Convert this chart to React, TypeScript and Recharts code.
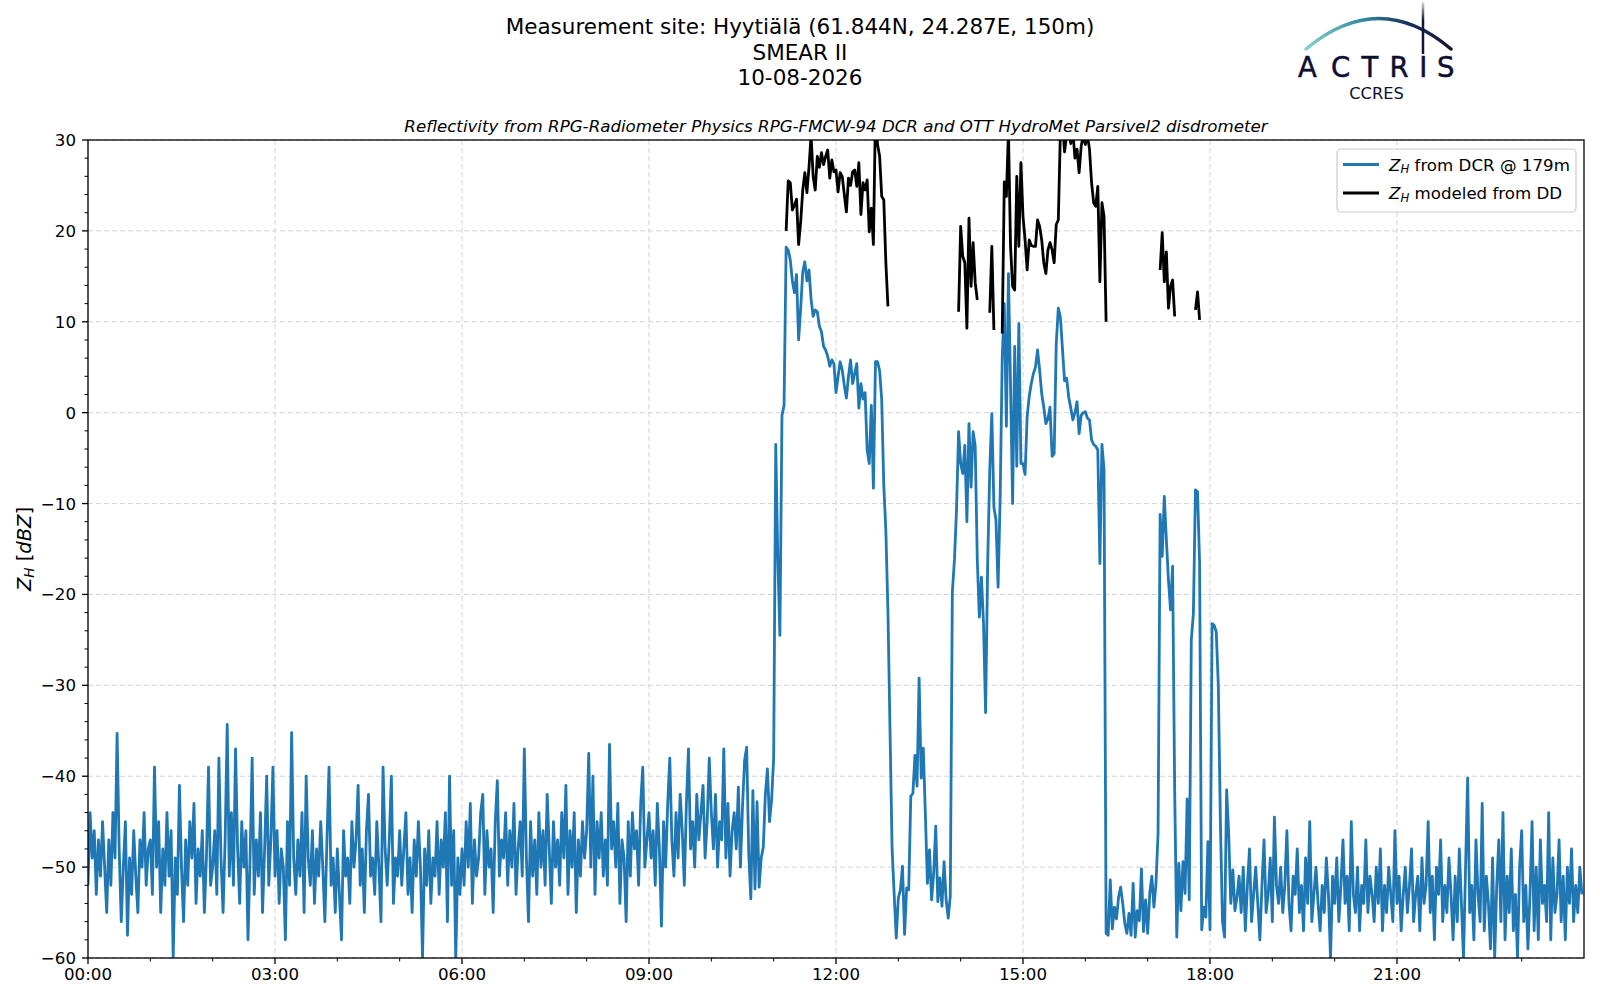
import React from 'react';
import { LineChart, Line, XAxis, YAxis, CartesianGrid } from 'recharts';

// ---------- data ----------
const STEP_MIN = 2; // minutes between DCR samples

// 00:00 - 10:58, one row per hour
const dcrNight: number[] = [
  -52, -44, -49, -46, -53, -47, -51, -45, -50, -55, -47, -52, -44, -49, -35.3, -48, -56, -50, -45, -57.5, -49, -53, -46, -51, -55, -47, -50, -44, -52, -48,
  -47, -53, -39, -50, -45, -55, -48, -52, -44, -51, -46, -60, -49, -53, -41, -50, -56, -47, -52, -45, -49, -43, -54, -48, -51, -46, -55, -49, -39, -52,
  -50, -46, -53, -38, -49, -55, -47, -34.3, -51, -44, -52, -37, -48, -54, -45, -50, -46, -58, -49, -38, -53, -47, -51, -44, -55, -48, -40, -52, -47, -39,
  -51, -46, -54, -48, -50, -58, -45, -52, -35.2, -49, -53, -47, -51, -44, -55, -40, -49, -52, -46, -54, -48, -51, -45, -50, -56, -47, -39, -52, -49, -55,
  -48, -53, -58, -46, -51, -49, -54, -45, -50, -47, -41, -52, -48, -55, -46, -42, -51, -49, -53, -45, -50, -56, -39, -48, -52, -47, -40, -54, -49, -51,
  -46, -52, -48, -44, -53, -49, -55, -47, -51, -45, -50, -60, -48, -52, -46, -54, -49, -51, -45, -53, -47, -50, -44, -56, -40, -52, -46, -60, -49, -53,
  -48, -52, -45, -50, -43, -54, -47, -51, -49, -44, -42, -53, -46, -50, -48, -55, -45, -40.5, -51, -47, -49, -44, -52, -46, -50, -43, -53, -48, -45, -51,
  -37, -49, -56, -45, -51, -47, -53, -44, -50, -46, -52, -42, -48, -54, -45, -50, -47, -52, -44, -49, -41, -53, -46, -50, -44, -55, -47, -51, -45, -49,
  -46, -37.5, -50, -40, -53, -45, -49, -44, -51, -47, -52, -36.5, -48, -45, -50, -43, -54, -47, -49, -56, -45, -51, -44, -48, -46, -52, -43, -39, -50, -47,
  -44, -49, -46, -52, -43, -48, -56.5, -45, -50, -43, -38, -47, -51, -44, -49, -42, -46, -52, -43, -37, -48, -45, -50, -42, -47, -44, -41, -49, -45, -38,
  -44, -48, -42, -50, -45, -47, -37, -49, -43, -51, -46, -44, -48, -41.2, -50, -43.4, -38.3, -36.8, -48.5, -53.5, -41.6, -52.4, -42.8, -52.2, -49, -47.8, -42, -39.2, -45, -42.6,
];

// 11:00 - 18:26
const dcrEvent: number[] = [
  -38, -3.5, -16, -24.5, -0.3, 0.8, 18.2, 17.9, 16.8, 14.5,
  13.2, 15.2, 8, 11.5, 15.5, 16.6, 14.5, 15.7, 12.5, 10.6,
  11.3, 11.1, 9.5, 8.9, 7.3, 6.9, 6.2, 5.1, 5.8, 5.4,
  2.2, 4, 5.6, 4.7, 3, 1.6, 4, 5.8, 3.2, 4.3,
  5.4, 0.5, 3.2, 1.5, 2.2, -4.1, -5.6, 0.8, -8.3, 5.6,
  5.6, 4.6, 1.4, -8, -13, -21.9, -35, -48, -53, -57.8,
  -53.4, -52.5, -49.9, -57.4, -52.3, -52.5, -42.2, -41.9, -37.7, -41.1,
  -29.2, -40.2, -36.9, -44.1, -51.8, -48.1, -53.6, -50.7, -45.5, -53.8,
  -51.2, -54.3, -49.4, -53.6, -55.6, -53.2, -19.7, -16.2, -10.7, -2.1,
  -5.6, -6.7, -3.6, -12, -1.2, -8.2, -2.1, -3.7, -16.2, -22.5,
  -18.1, -23.2, -33, -16.6, -6.3, -0.1, -10.4, -11.8, -19.2, -9.5,
  6, 12, -1.5, 15.3, 3, -10, 7.3, -5.9, 9.8, -5.6,
  -5.6, -6.8, -0.4, 1.8, 3.2, 4.3, 5, 6.9, 4.7, 2.1,
  0.6, -1.2, -0.7, 0.6, -4.8, -4.5, 7.6, 11.5, 10.5, 7,
  3.5, 3.8, 1.7, 0.5, -0.8, 0, 1.2, -2.3, -0.3, 0,
  0.1, -0.6, -0.8, -3, -3.5, -3.7, -4.1, -16.6, -3.5, -6.3,
  -57.3, -57.5, -51.4, -56.8, -54.4, -55.7, -53.3, -52.2, -54, -56.2,
  -57.3, -55.1, -57.5, -51.8, -57.7, -54.8, -55.9, -50.2, -57.1, -53.6,
  -57.3, -52.9, -51, -54.4, -51.8, -46.3, -11.2, -15.8, -9.2, -14,
  -18.4, -21.7, -16.9, -41.5, -57.7, -49.6, -54.8, -49.4, -52.9, -42.5,
  -53.6, -25, -22.1, -8.5, -8.7, -16.6, -56.9, -54.4, -55.5, -47.2,
  -56.9, -23.2, -23.4, -24.1, -30, -45, -55.9, -57.7, -41.5, -46.3,
  -54, -50.3, -54.8, -53.3,
];

// 18:28 - 23:58
const dcrEvening: number[] = [
  -51, -55, -50, -57, -52, -48, -56, -53, -50, -54, -58, -52, -47, -55, -53, -49, -56, -44.5, -52, -54,
  -50, -55, -52, -46, -54, -57, -51, -53, -48, -55, -52, -57, -49, -54, -45, -56, -53, -50, -54, -57,
  -52, -55, -49, -53, -60, -51, -54, -49, -56, -52, -47, -54, -51, -57, -45, -53, -55, -50, -57, -52,
  -54, -47, -55, -51, -53, -56, -50, -54, -48, -57, -52, -55, -50, -53, -56, -46, -54, -51, -57, -53,
  -50, -55, -52, -48, -56, -53, -51, -57, -49, -54, -52, -45, -55, -51, -58, -50, -53, -47, -56, -52,
  -55, -49, -53, -58, -51, -56, -48, -54, -60, -50, -40.2, -55, -52, -58, -47, -53, -56, -43, -57, -51,
  -54, -59, -49, -60, -52, -47, -56, -44, -58, -51, -55, -48, -57, -53, -60, -50, -46, -56, -52, -59,
  -53, -45, -57, -50, -58, -47, -54, -52, -56, -44, -58, -49, -55, -53, -47, -56, -51, -58, -50, -54,
  -48, -56, -52, -55, -50, -53,
];

// disdrometer-modelled reflectivity, contiguous pieces (start minute + values every STEP_MIN)
const ddSeg1Start = 672;
const ddSeg1: number[] = [
  20, 25.5, 25.3, 22.3, 22.8, 23.5, 18.5, 21, 24.5, 26.4,
  24.2, 27, 30.5, 26, 24.5, 28.2, 27, 28.6, 27.3, 28.2,
  28.9, 25.8, 27.8, 26.5, 26.7, 24.3, 26.4, 26, 24, 22.1,
  25.8, 25, 26.5, 26.7, 24.9, 27.5, 21.8, 25.3, 24.5, 25.6,
  19.9, 22.5, 18.5, 33, 29.5, 28.2, 23.8, 23.4, 16.5, 11.7,
];
const ddSeg2Start = 838;
const ddSeg2: number[] = [11.1, 20.5, 17.2, 16.5, 9.3, 21.4, 13.9, 18.7, 14.3, 12.4];
const ddSeg3Start = 868;
const ddSeg3: number[] = [11, 18.3, 9.1];
const ddSeg4Start = 880;
const ddSeg4: number[] = [
  8.7, 25.4, 23.8, 31, 18.3, 13.9, 13.5, 26, 18.3, 27.5,
  21.6, 19, 15.7, 19, 18.4, 18.3, 18.3, 21.2, 20.5, 19,
  16.5, 15.3, 17.9, 18.7, 17.9, 16.5, 20.7, 21.2, 31, 32,
  28.7, 30.5, 31, 29.6, 31, 28, 29, 26.4, 29.3, 30.5,
  29.5, 30.5, 29, 25.3, 23.1, 22.7, 24.9, 14.4, 23.1, 21.6,
  10,
];
const ddSeg5Start = 1032;
const ddSeg5: number[] = [15.7, 19.8, 14.4, 17.7, 11.5, 13.9, 14.6, 10.6];
const ddSeg6Start = 1066;
const ddSeg6: number[] = [11.3, 13.3, 10.2];

const xMajorTicks = [0, 180, 360, 540, 720, 900, 1080, 1260];
const xTickLabels = ['00:00', '03:00', '06:00', '09:00', '12:00', '15:00', '18:00', '21:00'];
const xAllTicks = [0, 60, 120, 180, 240, 300, 360, 420, 480, 540, 600, 660, 720, 780, 840, 900, 960, 1020, 1080, 1140, 1200, 1260, 1320, 1380];
const yMajorTicks = [-60, -50, -40, -30, -20, -10, 0, 10, 20, 30];
const yAllTicks = [
  -60, -58, -56, -54, -52, -50, -48, -46, -44, -42, -40, -38, -36, -34, -32, -30, -28, -26, -24, -22,
  -20, -18, -16, -14, -12, -10, -8, -6, -4, -2, 0, 2, 4, 6, 8, 10, 12, 14, 16, 18, 20, 22, 24, 26, 28, 30,
];

const seriesNames = ['from DCR @ 179m', 'modeled from DD'];
const seriesColors = ['#1f77b4', '#000000'];

const titleLines = ['Measurement site: Hyytiälä (61.844N, 24.287E, 150m)', 'SMEAR II', '10-08-2026'];
const subTitle = 'Reflectivity from RPG-Radiometer Physics RPG-FMCW-94 DCR and OTT HydroMet Parsivel2 disdrometer';
const logoLetters = ['A', 'C', 'T', 'R', 'I', 'S'];
const logoSub = 'CCRES';

// ---------- table ----------
const dcrValues = [...dcrNight, ...dcrEvent, ...dcrEvening];
const ddPieces = [
  { start: ddSeg1Start, values: ddSeg1 },
  { start: ddSeg2Start, values: ddSeg2 },
  { start: ddSeg3Start, values: ddSeg3 },
  { start: ddSeg4Start, values: ddSeg4 },
  { start: ddSeg5Start, values: ddSeg5 },
  { start: ddSeg6Start, values: ddSeg6 },
];
const ddLookup: Record<number, number> = {};
ddPieces.forEach((p) => p.values.forEach((v, i) => { ddLookup[p.start + i * STEP_MIN] = v; }));
const table = dcrValues.map((v, i) => {
  const t = i * STEP_MIN;
  return { t, dcr: v, dd: ddLookup[t] !== undefined ? ddLookup[t] : null };
});

// ---------- rendering helpers ----------
const FONT = '"DejaVu Sans", sans-serif';
const TICK_FS = 16.67;
const LINE_W = 2.8;
const minus = (v: number) => (v < 0 ? '\u2212' + Math.abs(v) : String(v));

const YTick = (props: any) => {
  const { x, y, payload } = props;
  const v = payload.value;
  const major = yMajorTicks.includes(v);
  return (
    <g>
      <line x1={x - (major ? 6 : 3.5)} x2={x} y1={y} y2={y} stroke="#000" strokeWidth={major ? 1.3 : 1} />
      {major && (
        <text x={x - 12} y={y} dy="0.36em" textAnchor="end" fontSize={TICK_FS} fontFamily={FONT} fill="#000">
          {minus(v)}
        </text>
      )}
    </g>
  );
};

const XTick = (props: any) => {
  const { x, y, payload } = props;
  const v = payload.value;
  const idx = xMajorTicks.indexOf(v);
  const major = idx >= 0;
  return (
    <g>
      <line x1={x} x2={x} y1={y} y2={y + (major ? 6 : 3.5)} stroke="#000" strokeWidth={major ? 1.3 : 1} />
      {major && (
        <text x={x} y={y + 22} textAnchor="middle" fontSize={TICK_FS} fontFamily={FONT} fill="#000">
          {xTickLabels[idx]}
        </text>
      )}
    </g>
  );
};

const PLOT = { left: 88, top: 140, width: 1496, height: 818 };
const LETTER_X = [1307.3, 1340.7, 1370, 1399, 1423.3, 1445.7];

export default function App() {
  return (
    <div style={{ position: 'absolute', left: 0, top: 0, width: 1600, height: 1000, background: '#fff' }}>
      <LineChart
        width={1600}
        height={1000}
        data={table}
        margin={{ top: PLOT.top, right: 1600 - PLOT.left - PLOT.width, bottom: 12, left: PLOT.left - 60 }}
      >
        <CartesianGrid
          stroke="#d3d3d3"
          strokeDasharray="5 3"
          strokeWidth={1}
          horizontalValues={yMajorTicks}
          verticalValues={xMajorTicks}
        />
        <XAxis
          dataKey="t"
          type="number"
          domain={[0, 1440]}
          ticks={xAllTicks}
          interval={0}
          tick={<XTick />}
          tickLine={false}
          axisLine={false}
          tickSize={0}
          tickMargin={0}
          height={30}
          allowDataOverflow
        />
        <YAxis
          type="number"
          domain={[-60, 30]}
          ticks={yAllTicks}
          interval={0}
          tick={<YTick />}
          tickLine={false}
          axisLine={false}
          tickSize={0}
          tickMargin={0}
          width={60}
          allowDataOverflow
        />
        <Line
          dataKey="dcr"
          type="linear"
          stroke={seriesColors[0]}
          strokeWidth={LINE_W}
          strokeLinejoin="round"
          dot={false}
          activeDot={false}
          isAnimationActive={false}
        />
        <Line
          dataKey="dd"
          type="linear"
          stroke={seriesColors[1]}
          strokeWidth={LINE_W}
          strokeLinejoin="round"
          dot={false}
          activeDot={false}
          connectNulls={false}
          isAnimationActive={false}
        />
      </LineChart>

      <svg
        width={1600}
        height={1000}
        style={{ position: 'absolute', left: 0, top: 0, pointerEvents: 'none' }}
      >
        <defs>
          <linearGradient id="arcGrad" x1="1306" y1="0" x2="1451" y2="0" gradientUnits="userSpaceOnUse">
            <stop offset="0" stopColor="#86cfca" />
            <stop offset="0.4" stopColor="#2f8a9c" />
            <stop offset="0.7" stopColor="#1c2f5c" />
            <stop offset="1" stopColor="#141436" />
          </linearGradient>
          <linearGradient id="mastGrad" x1="0" y1="2" x2="0" y2="54" gradientUnits="userSpaceOnUse">
            <stop offset="0" stopColor="#141436" stopOpacity="0.15" />
            <stop offset="0.35" stopColor="#141436" stopOpacity="1" />
          </linearGradient>
        </defs>

        {/* plot frame */}
        <rect x={PLOT.left} y={PLOT.top} width={PLOT.width} height={PLOT.height} fill="none" stroke="#000" strokeWidth={1.3} />

        {/* suptitle */}
        <text textAnchor="middle" fontSize={21.5} fontFamily={FONT} fill="#000">
          {titleLines.map((s, i) => (
            <tspan key={s} x={800} y={34.3 + i * 25.2}>
              {s}
            </tspan>
          ))}
        </text>
        <text x={PLOT.left + PLOT.width / 2} y={131.5} textAnchor="middle" fontSize={16.67} fontStyle="italic" fontFamily={FONT} fill="#000">
          {subTitle}
        </text>

        {/* y label */}
        <text transform="translate(31,549) rotate(-90)" textAnchor="middle" fontSize={19.5} fontFamily={FONT} fill="#000">
          <tspan fontStyle="italic">Z</tspan>
          <tspan fontStyle="italic" fontSize={13.6} dy={3}>H</tspan>
          <tspan dy={-3}> [</tspan>
          <tspan fontStyle="italic">dBZ</tspan>
          <tspan>]</tspan>
        </text>

        {/* legend */}
        <rect x={1337} y={149} width={239} height={63} rx={4} fill="#fff" fillOpacity={0.8} stroke="#cccccc" strokeWidth={1.2} />
        {seriesNames.map((name, i) => (
          <g key={name}>
            <line x1={1343} x2={1379} y1={164.5 + i * 28.5} y2={164.5 + i * 28.5} stroke={seriesColors[i]} strokeWidth={LINE_W} />
            <text x={1389} y={170.5 + i * 28.5} fontSize={16.67} fontFamily={FONT} fill="#000">
              <tspan fontStyle="italic">Z</tspan>
              <tspan fontStyle="italic" fontSize={11.7} dy={2.5}>H</tspan>
              <tspan dy={-2.5}>{' ' + name}</tspan>
            </text>
          </g>
        ))}

        {/* ACTRIS logo */}
        <path d="M1306,49 Q1379,-12 1451,49" stroke="url(#arcGrad)" strokeWidth={3.5} fill="none" strokeLinecap="round" />
        <line x1={1423} x2={1423} y1={2} y2={54} stroke="url(#mastGrad)" strokeWidth={2.5} />
        <text textAnchor="middle" fontFamily={FONT} fill="#0e0e32" stroke="#0e0e32" strokeWidth={0.5}>
          {logoLetters.map((ch, i) => (
            <tspan key={ch} x={LETTER_X[i]} y={77.3} fontSize={27.5}>
              {ch}
            </tspan>
          ))}
        </text>
        <text x={1376.5} y={99.2} textAnchor="middle" fontSize={16.3} fontFamily={FONT} fill="#0e0e32">
          {logoSub}
        </text>
      </svg>
    </div>
  );
}
